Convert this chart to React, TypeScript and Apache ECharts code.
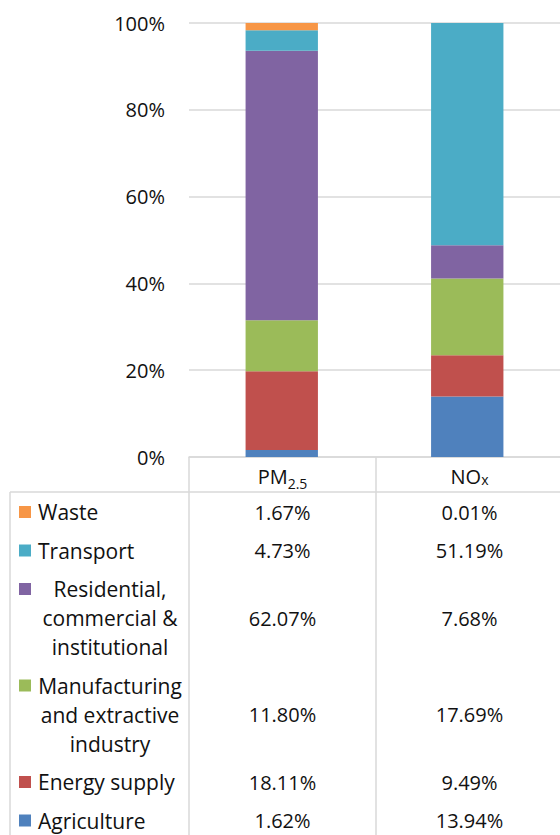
import React, { useEffect, useRef } from "react";
import * as echarts from "echarts";

const pollutants = ["PM2.5", "NOx"];
const pollutantMain = ["PM", "NO"];
const pollutantSub = ["2.5", "x"];

// bottom-to-top stacking order
const sectors = [
  "Agriculture",
  "Energy supply",
  "Manufacturing and extractive industry",
  "Residential, commercial & institutional",
  "Transport",
  "Waste",
];
const sectorLabelLines = [
  ["Agriculture"],
  ["Energy supply"],
  ["Manufacturing", "and extractive", "industry"],
  ["Residential,", "commercial &", "institutional"],
  ["Transport"],
  ["Waste"],
];
const colors = ["#4F81BD", "#C0504D", "#9BBB59", "#8064A2", "#4BACC6", "#F79646"];

const pm25Values = [1.62, 18.11, 11.8, 62.07, 4.73, 1.67];
const noxValues = [13.94, 9.49, 17.69, 7.68, 51.19, 0.01];

const yTicks = [0, 20, 40, 60, 80, 100];

const FONT = "'Open Sans', 'Liberation Sans', sans-serif";
const FS = 20;
const TXT = "#111";
const LINE = "#D9D9D9";

export default function App() {
  const ref = useRef<HTMLDivElement>(null);
  useEffect(() => {
    if (!ref.current) return;
    const chart = echarts.init(ref.current, undefined, { renderer: "svg" });

    const gridLeft = 189;
    const gridTop = 23;
    const gridBottomY = 457;
    const catW = 187;
    const colCenters = [gridLeft + catW / 2, gridLeft + catW * 1.5];
    const subDrop = [10, 6];

    const graphics: any[] = [];
    // table vertical lines
    [gridLeft, gridLeft + catW, gridLeft + catW * 2].forEach((x) => {
      graphics.push({
        type: "line",
        shape: { x1: x, y1: gridBottomY, x2: x, y2: 840 },
        style: { stroke: LINE, lineWidth: 1.5 },
        silent: true,
      });
    });
    // header bottom line & left border
    const headerBottom = 492;
    graphics.push({
      type: "line",
      shape: { x1: 10, y1: headerBottom, x2: 565, y2: headerBottom },
      style: { stroke: LINE, lineWidth: 1.5 },
    });
    graphics.push({
      type: "line",
      shape: { x1: 10, y1: headerBottom, x2: 10, y2: 840 },
      style: { stroke: LINE, lineWidth: 1.5 },
    });
    // header
    pollutants.forEach((p, i) => {
      graphics.push({
        type: "text",
        x: colCenters[i],
        y: 476,
        style: {
          text: `{m|${pollutantMain[i]}}{s|${pollutantSub[i]}}`,
          align: "center",
          verticalAlign: "middle",
          rich: {
            m: { fontFamily: FONT, fontSize: FS, fill: TXT, lineHeight: 20, verticalAlign: "top" },
            s: {
              fontFamily: FONT,
              fontSize: 14,
              fill: TXT,
              lineHeight: 14,
              verticalAlign: "top",
              padding: [subDrop[i], 0, 0, 0],
            },
          },
        },
      });
    });
    // rows (top to bottom: reversed)
    const lineH = 29;
    const rowGap = 38.5;
    let y = 512;
    for (let k = sectors.length - 1; k >= 0; k--) {
      const lines = sectorLabelLines[k];
      const firstY = y;
      const lastY = y + (lines.length - 1) * lineH;
      const midY = (firstY + lastY) / 2;
      graphics.push({
        type: "rect",
        shape: { x: 19, y: firstY - 6, width: 12, height: 12 },
        style: { fill: colors[k] },
      });
      if (lines.length === 1) {
        graphics.push({
          type: "text",
          x: 38,
          y: firstY,
          style: { text: lines[0], fontFamily: FONT, fontSize: 21, fill: TXT, align: "left", verticalAlign: "middle" },
        });
      } else {
        lines.forEach((ln, j) => {
          graphics.push({
            type: "text",
            x: 110,
            y: firstY + j * lineH,
            style: { text: ln, fontFamily: FONT, fontSize: 21, fill: TXT, align: "center", verticalAlign: "middle" },
          });
        });
      }
      [pm25Values[k], noxValues[k]].forEach((v, i) => {
        graphics.push({
          type: "text",
          x: colCenters[i],
          y: midY,
          style: { text: v.toFixed(2) + "%", fontFamily: FONT, fontSize: FS, fill: TXT, align: "center", verticalAlign: "middle" },
        });
      });
      y = lastY + rowGap;
    }

    chart.setOption({
      animation: false,
      grid: { left: gridLeft, top: gridTop, width: catW * 2, height: gridBottomY - gridTop, containLabel: false },
      xAxis: {
        type: "category",
        data: pollutants,
        axisLabel: { show: false },
        axisTick: { show: false },
        axisLine: { show: true, lineStyle: { color: LINE, width: 1.5 } },
      },
      yAxis: {
        type: "value",
        min: yTicks[0],
        max: yTicks[yTicks.length - 1],
        interval: 20,
        axisLabel: { formatter: "{value}%", fontFamily: FONT, fontSize: FS, color: TXT, margin: 24 },
        axisLine: { show: false },
        axisTick: { show: false },
        splitLine: { lineStyle: { color: LINE, width: 1.5 } },
      },
      series: sectors.map((s, k) => ({
        name: s,
        type: "bar",
        stack: "total",
        barWidth: "39%",
        itemStyle: { color: colors[k] },
        data: [pm25Values[k], noxValues[k]],
      })),
      graphic: graphics,
    });
    return () => chart.dispose();
  }, []);
  return (
    <div
      ref={ref}
      style={{ position: "fixed", left: 0, top: 0, width: 560, height: 835, background: "#fff" }}
    />
  );
}
